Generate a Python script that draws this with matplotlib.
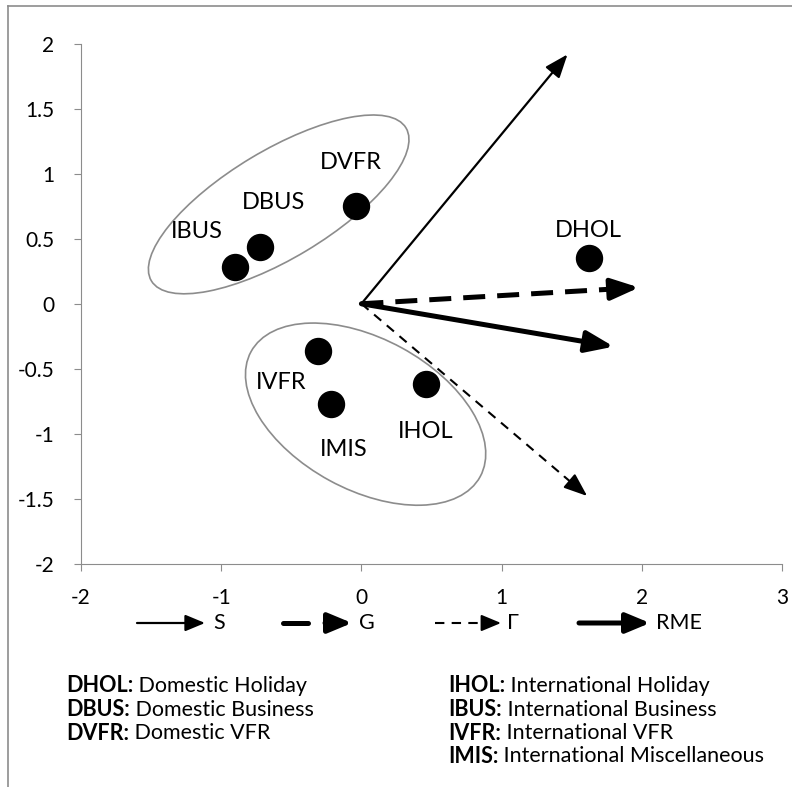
import matplotlib.pyplot as plt
from matplotlib.lines import Line2D
from matplotlib.patches import Ellipse, FancyArrowPatch
from matplotlib.transforms import IdentityTransform, ScaledTranslation

plt.rcParams['font.family'] = ['Lato', 'DejaVu Sans']

# segment positions (dimension 1, dimension 2)
names = ['DHOL', 'DVFR', 'DBUS', 'IBUS', 'IVFR', 'IMIS', 'IHOL']
dim1 = [1.62, -0.04, -0.72, -0.90, -0.31, -0.22, 0.46]
dim2 = [0.35, 0.75, 0.44, 0.28, -0.36, -0.77, -0.62]

# variable vectors
vec_names = ['S', 'G', 'Γ', 'RME']
vec_x = [1.47, 1.98, 1.61, 1.80]
vec_y = [1.92, 0.125, -1.48, -0.33]

key_codes_left = ['DHOL:', 'DBUS:', 'DVFR:']
key_desc_left = ['Domestic Holiday', 'Domestic Business', 'Domestic VFR']
key_codes_right = ['IHOL:', 'IBUS:', 'IVFR:', 'IMIS:']
key_desc_right = ['International Holiday', 'International Business',
                  'International VFR', 'International Miscellaneous']

W, H = 792, 787
fig = plt.figure(figsize=(W / 100, H / 100), dpi=100)
ax = fig.add_axes([81 / W, 1 - 563.5 / H, 701 / W, 519.5 / H])

# label offsets in pixels
label_off = {'DHOL': (0, 28), 'DVFR': (-5, 44), 'DBUS': (13, 44), 'IBUS': (-38, 36),
             'IVFR': (-37, -32), 'IMIS': (13, -46), 'IHOL': (0, -47)}

ax.scatter(dim1, dim2, s=350, color='black', zorder=5)
for n, x, y in zip(names, dim1, dim2):
    ax.annotate(n, (x, y), xytext=label_off[n], textcoords='offset pixels',
                ha='center', va='center', fontsize=17)

# group ellipses (drawn in pixels around a data centre)
def ellipse(cx, cy, w, h, ang):
    tr = IdentityTransform() + ScaledTranslation(cx, cy, ax.transData)
    e = Ellipse((0, 0), w, h, angle=ang, transform=tr, fill=False,
                edgecolor='#8c8c8c', lw=1.2)
    ax.add_patch(e)

ellipse(-0.59, 0.765, 297, 108, 31)
ellipse(0.03, -0.85, 261, 151, -28.6)

styles = {
    'S': dict(lw=1.6, dashed=None, ms=11),
    'G': dict(lw=3.6, dashed=(4.4, 2.4), ms=13),
    'Γ': dict(lw=1.5, dashed=(4.5, 3.5), ms=11),
    'RME': dict(lw=3.6, dashed=None, ms=13),
}

for n, vx, vy in zip(vec_names, vec_x, vec_y):
    st = styles[n]
    if st['dashed'] is None:
        ax.annotate('', xy=(vx, vy), xytext=(0, 0),
                    arrowprops=dict(arrowstyle='-|>,head_length=1.3,head_width=0.5',
                                    lw=st['lw'], color='black', shrinkA=0, shrinkB=0,
                                    mutation_scale=st['ms']))
    else:
        ax.plot([0, vx * 0.9], [0, vy * 0.9], color='black', lw=st['lw'],
                dashes=st['dashed'], solid_capstyle='butt')
        ax.annotate('', xy=(vx, vy), xytext=(vx * 0.9, vy * 0.9),
                    arrowprops=dict(arrowstyle='-|>,head_length=1.3,head_width=0.5',
                                    lw=st['lw'], color='black', shrinkA=0, shrinkB=0,
                                    mutation_scale=st['ms']))

ax.set_xlim(-2, 3)
ax.set_ylim(-2, 2)
ax.set_xticks([-2, -1, 0, 1, 2, 3])
ax.set_yticks([-2, -1.5, -1, -0.5, 0, 0.5, 1, 1.5, 2])
ax.set_yticklabels(['-2', '-1.5', '-1', '-0.5', '0', '0.5', '1', '1.5', '2'])
ax.set_xticklabels(['-2', '-1', '0', '1', '2', '3'])
for s in ['top', 'right']:
    ax.spines[s].set_visible(False)
for s in ['left', 'bottom']:
    ax.spines[s].set_color('#8c8c8c')
ax.tick_params(axis='both', length=5, color='#8c8c8c', labelsize=15)
ax.tick_params(axis='y', pad=14)
ax.tick_params(axis='x', pad=13)

# outer frame (top and left edges)
fig.add_artist(Line2D([8 / W, 8 / W], [0, 1 - 6 / H], color='#8c8c8c', lw=1.2))
fig.add_artist(Line2D([8 / W, 1], [1 - 6 / H, 1 - 6 / H], color='#8c8c8c', lw=1.2))

# legend row
def fx(px):
    return px / W

def fy(py):
    return 1 - py / H

ly = 623
leg = [('S', 137, 205, 213), ('G', 283, 352, 359), ('Γ', 435, 501, 507), ('RME', 579, 650, 656)]
for n, x0, x1, xt in leg:
    st = styles[n]
    if n == 'G':
        fig.add_artist(Line2D([fx(283), fx(308)], [fy(ly), fy(ly)], color='black',
                              lw=st['lw'], solid_capstyle='round'))
        x0 = 325
    if st['dashed'] is None or n == 'G':
        a = FancyArrowPatch((fx(x0), fy(ly)), (fx(x1), fy(ly)), transform=fig.transFigure,
                            arrowstyle='-|>,head_length=1.2,head_width=0.5', lw=st['lw'],
                            color='black', shrinkA=0, shrinkB=0, mutation_scale=st['ms'] - 1)
        fig.add_artist(a)
    else:
        fig.add_artist(Line2D([fx(x0), fx(x1 - 14)], [fy(ly), fy(ly)], color='black',
                              lw=st['lw'], dashes=st['dashed']))
        a = FancyArrowPatch((fx(x1 - 16), fy(ly)), (fx(x1), fy(ly)), transform=fig.transFigure,
                            arrowstyle='-|>,head_length=1.2,head_width=0.5', lw=st['lw'],
                            color='black', shrinkA=0, shrinkB=0, mutation_scale=st['ms'] - 1)
        fig.add_artist(a)
    fig.text(fx(xt), fy(ly), n, fontsize=15.5, ha='left', va='center')

# key text
def key(col_x, codes, descs):
    for i, (c, d) in enumerate(zip(codes, descs)):
        t = fig.text(fx(col_x), fy(686 + 23.5 * i), c, fontsize=15.5, fontweight='bold',
                     ha='left', va='center')
        ax.annotate(' ' + d, xy=(1, 0.5), xycoords=t, ha='left', va='center',
                    fontsize=15.5, annotation_clip=False)

key(66, key_codes_left, key_desc_left)
key(448, key_codes_right, key_desc_right)

fig.savefig('out.png', dpi=100)
